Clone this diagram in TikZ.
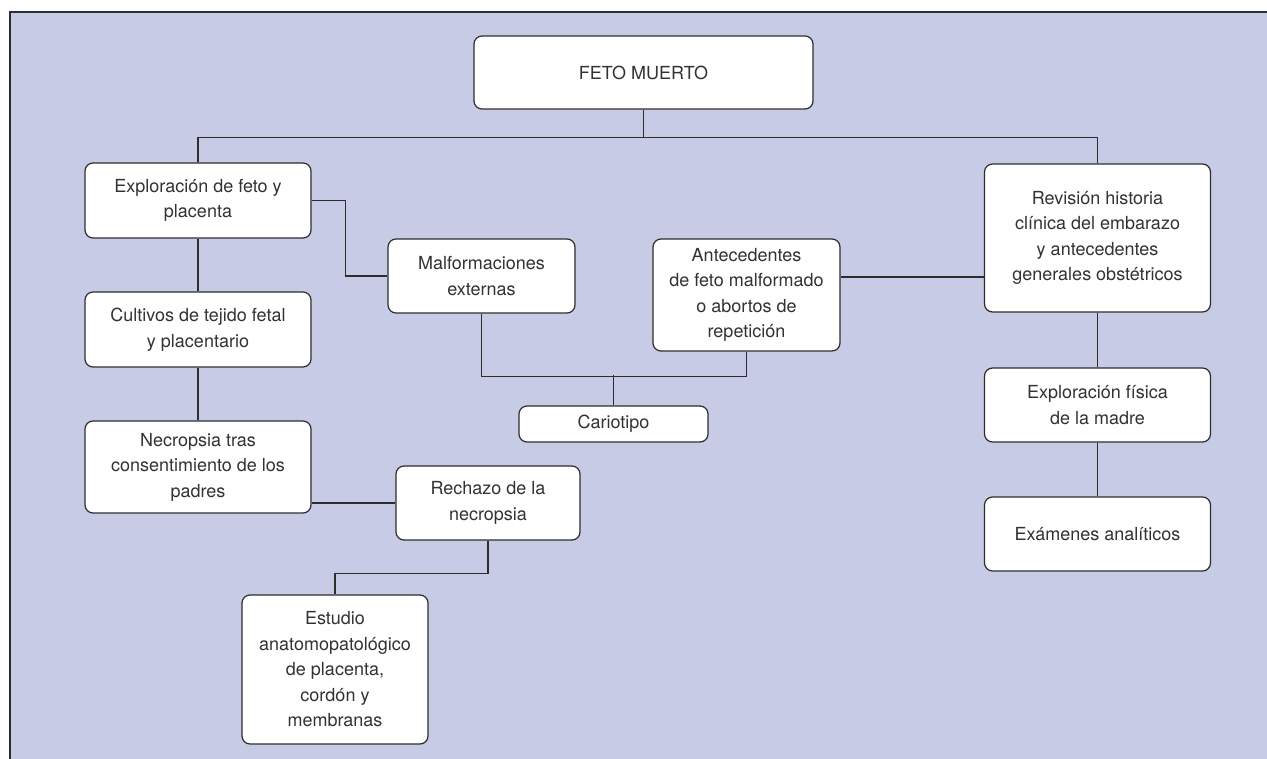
\documentclass[tikz,border=0pt]{standalone}
\usepackage{fontspec}
\setmainfont{TeX Gyre Heros}
\usetikzlibrary{calc}
\definecolor{panel}{RGB}{199,203,230}
\definecolor{ink}{RGB}{45,45,45}
\definecolor{txt}{RGB}{50,50,50}
\tikzset{
  box/.style={draw=ink, fill=white, line width=1.2bp, rounded corners=8bp,
    align=center, inner sep=0pt, text=txt,
    font=\fontsize{18bp}{25.5bp}\selectfont},
  widebox/.style={box, minimum width=226bp, minimum height=75bp},
  midbox/.style={box, minimum width=187bp, minimum height=74bp},
  link/.style={draw=ink, line width=1.2bp},
}

\begin{document}
\begin{tikzpicture}[x=1bp, y=-1bp]
  % --- page and panel ---
  \useasboundingbox (0,0) rectangle (1267,759);
  \fill[white] (0,0) rectangle (1267,759);
  \fill[panel] (10,12) rectangle (1267,759);
  \draw[ink, line width=1.3bp] (10,759) -- (10,12) -- (1267,12);

  % --- root ---
  \node[box, minimum width=339bp, minimum height=73bp] (feto) at (643.5,72.5) {FETO MUERTO};

  % --- left column ---
  \node[widebox] (expl) at (198,200.5) {Exploración de feto y\\placenta};
  \node[widebox] (cult) at (198,329.5) {Cultivos de tejido fetal\\y placentario};
  \node[widebox, minimum height=92bp] (necro) at (198,467) {Necropsia tras\\consentimiento de los\\padres};
  \node[box, minimum width=184bp, minimum height=74bp] (rech) at (488,503) {Rechazo de la\\necropsia};
  \node[box, minimum width=186bp, minimum height=149bp] (estud) at (335,669.5)
    {Estudio\\anatomopatológico\\de placenta,\\cordón y\\membranas};

  % --- middle ---
  \node[midbox] (malf) at (481.5,276) {Malformaciones\\externas};
  \node[midbox, minimum height=112bp] (antec) at (746.5,295)
    {Antecedentes\\de feto malformado\\o abortos de\\repetición};
  \node[box, minimum width=189bp, minimum height=36bp] (cario) at (613.5,424) {Cariotipo};

  % --- right column ---
  \node[widebox, minimum height=148bp] (revis) at (1097.5,238)
    {Revisión historia\\clínica del embarazo\\y antecedentes\\generales obstétricos};
  \node[widebox, minimum height=74bp] (fisic) at (1097.5,405) {Exploración física\\de la madre};
  \node[widebox, minimum height=74bp] (exam) at (1097.5,534) {Exámenes analíticos};

  % --- connectors ---
  \coordinate (bus) at ($(feto.south)+(0,28)$);
  \draw[link] (feto.south) -- (bus) -| (expl.north);
  \draw[link] (bus) -| (revis.north);
  \draw[link] (expl.east) -- ++(34,0) |- (malf.west);
  \draw[link] (expl.south) -- (cult.north);
  \draw[link] (cult.south) -- (necro.north);
  \draw[link] (rech.west) -- (rech.west -| necro.east);
  \draw[link] (rech.south) -- ++(0,33) -| (estud.north);
  \draw[link] (malf.south) -- ++(0,63) -| (antec.south);
  \draw[link] (cario.north) -- ++(0,-30);
  \draw[link] ([yshift=18bp]antec.east) -- ([yshift=18bp]antec.east -| revis.west);
  \draw[link] (revis.south) -- (fisic.north);
  \draw[link] (fisic.south) -- (exam.north);
\end{tikzpicture}
\end{document}
